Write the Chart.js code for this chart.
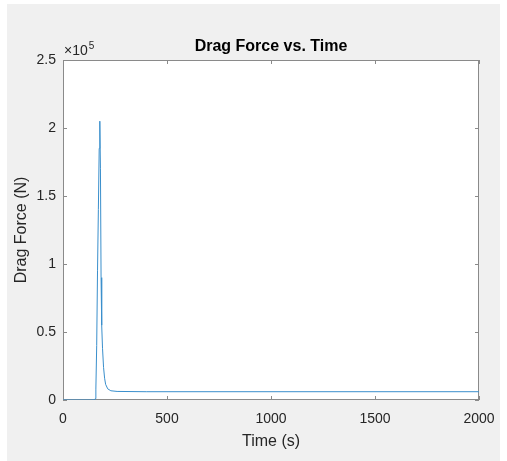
<!DOCTYPE html>
<html>
<head>
<meta charset="utf-8">
<title>Drag Force vs. Time</title>
<script src="https://cdn.jsdelivr.net/npm/chart.js@4/dist/chart.umd.min.js"></script>
<style>
  html, body { margin: 0; padding: 0; background: #ffffff; }
  canvas { display: block; }
</style>
</head>
<body>
<canvas id="dragChart" width="507" height="461"></canvas>
<script>
// Datos (tiempo en s, fuerza en N)
const timeValues  = [0, 150, 155, 158, 162, 166, 170, 174, 177, 180, 183, 186, 190, 195, 200, 205, 215, 230, 260, 400, 2000];
const forceValues = [0, 0, 1000, 8000, 40000, 95000, 140000, 185000, 205000, 170000, 90000, 55000, 38000, 24000, 16000, 11500, 8200, 6800, 6300, 6100, 6100];

const xTicks = [0, 500, 1000, 1500, 2000];
const yTicks = [0, 50000, 100000, 150000, 200000, 250000];
const yExponent = 5;

const chartTitle = 'Drag Force vs. Time';
const xLabel = 'Time (s)';
const yLabel = 'Drag Force (N)';

const FONT = '"Liberation Sans", Arial, Helvetica, sans-serif';
const TEXT = '#262626';
const AXIS = '#8a8a8a';

Chart.defaults.font.family = FONT;
Chart.defaults.color = TEXT;

// Fondo gris, caja de ejes, ticks hacia dentro, titulo y exponente estilo MATLAB
const matlabFrame = {
    id: 'matlabFrame',
    beforeDraw(chart) {
        const { ctx, chartArea: a } = chart;
        ctx.save();
        ctx.fillStyle = '#ffffff';
        ctx.fillRect(0, 0, chart.width, chart.height);
        ctx.fillStyle = '#f0f0f0';
        ctx.fillRect(7, 4, 493, 457);
        ctx.fillStyle = '#ffffff';
        ctx.fillRect(a.left, a.top, a.right - a.left, a.bottom - a.top);
        ctx.restore();
    },
    beforeDatasetsDraw(chart) {
        const { ctx, chartArea: a, scales } = chart;
        const tick = 4;
        ctx.save();
        ctx.strokeStyle = AXIS;
        ctx.lineWidth = 1;
        ctx.strokeRect(a.left + 0.5, a.top + 0.5, a.right - a.left - 1, a.bottom - a.top - 1);

        ctx.beginPath();
        scales.x.ticks.forEach(t => {
            const px = Math.round(scales.x.getPixelForValue(t.value)) + 0.5;
            ctx.moveTo(px, a.bottom);
            ctx.lineTo(px, a.bottom - tick);
            ctx.moveTo(px, a.top);
            ctx.lineTo(px, a.top + tick);
        });
        scales.y.ticks.forEach(t => {
            const py = Math.round(scales.y.getPixelForValue(t.value)) + 0.5;
            ctx.moveTo(a.left, py);
            ctx.lineTo(a.left + tick, py);
            ctx.moveTo(a.right, py);
            ctx.lineTo(a.right - tick, py);
        });
        ctx.stroke();
        ctx.restore();
    },
    afterDraw(chart) {
        const { ctx, chartArea: a } = chart;
        ctx.save();
        // Titulo
        ctx.fillStyle = '#000000';
        ctx.font = 'bold 16px ' + FONT;
        ctx.textAlign = 'center';
        ctx.textBaseline = 'middle';
        ctx.fillText(chartTitle, (a.left + a.right) / 2, 47);

        // x10^5
        ctx.fillStyle = TEXT;
        ctx.textAlign = 'left';
        ctx.font = '14px ' + FONT;
        const base = '\u00d710';
        ctx.fillText(base, a.left + 1, 51);
        const w = ctx.measureText(base).width;
        ctx.font = '10px ' + FONT;
        ctx.fillText(String(yExponent), a.left + 2 + w, 46);
        ctx.restore();
    }
};

const ctx = document.getElementById('dragChart').getContext('2d');

new Chart(ctx, {
    type: 'scatter',
    data: {
        datasets: [{
            label: yLabel,
            data: timeValues.map((t, i) => ({ x: t, y: forceValues[i] })),
            showLine: true,
            borderColor: '#3a8fcc',
            borderWidth: 1,
            pointRadius: 0,
            tension: 0
        }]
    },
    options: {
        responsive: false,
        animation: false,
        devicePixelRatio: 1,
        layout: { padding: { left: 0, right: 28, top: 60, bottom: 0 } },
        plugins: {
            legend: { display: false },
            tooltip: { enabled: false },
            title: { display: false }
        },
        scales: {
            x: {
                type: 'linear',
                min: xTicks[0],
                max: xTicks[xTicks.length - 1],
                afterBuildTicks: s => { s.ticks = xTicks.map(v => ({ value: v })); },
                afterFit: s => { s.height = 61; },
                grid: { display: false, drawTicks: false },
                border: { display: false },
                ticks: {
                    padding: 10.6,
                    font: { size: 14 },
                    color: TEXT,
                    maxRotation: 0,
                    callback: v => String(v)
                },
                title: {
                    display: true,
                    text: xLabel,
                    font: { size: 16 },
                    color: TEXT,
                    padding: { top: 0, bottom: 9.4 }
                }
            },
            y: {
                type: 'linear',
                min: yTicks[0],
                max: yTicks[yTicks.length - 1],
                afterBuildTicks: s => { s.ticks = yTicks.map(v => ({ value: v })); },
                afterFit: s => { s.width = 63; },
                grid: { display: false, drawTicks: false },
                border: { display: false },
                ticks: {
                    padding: 7,
                    font: { size: 14 },
                    color: TEXT,
                    callback: v => String(v / Math.pow(10, yExponent))
                },
                title: {
                    display: true,
                    text: yLabel,
                    font: { size: 16 },
                    color: TEXT,
                    padding: { top: 12, bottom: 0 }
                }
            }
        }
    },
    plugins: [matlabFrame]
});
</script>
</body>
</html>
